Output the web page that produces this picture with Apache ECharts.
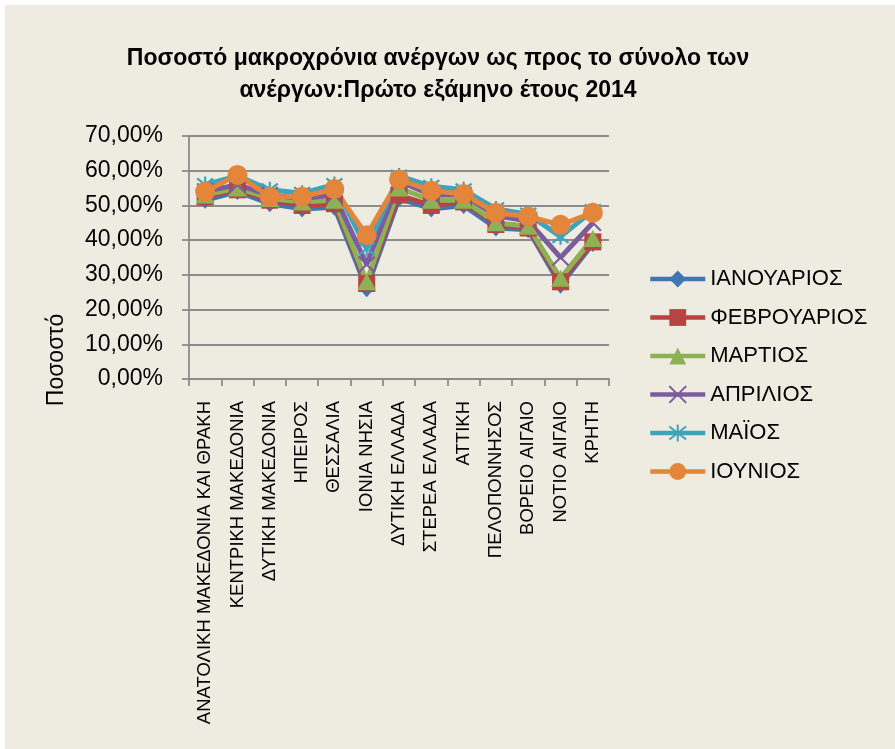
<!DOCTYPE html>
<html>
<head>
<meta charset="utf-8">
<script src="https://cdn.jsdelivr.net/npm/echarts@6/dist/echarts.min.js"></script>
<style>
html,body{margin:0;padding:0;background:#ffffff;}
#c{width:895px;height:749px;}
</style>
</head>
<body>
<div id="c"></div>
<script>
const categories = ["ΑΝΑΤΟΛΙΚΗ ΜΑΚΕΔΟΝΙΑ ΚΑΙ ΘΡΑΚΗ","ΚΕΝΤΡΙΚΗ ΜΑΚΕΔΟΝΙΑ","ΔΥΤΙΚΗ ΜΑΚΕΔΟΝΙΑ","ΗΠΕΙΡΟΣ","ΘΕΣΣΑΛΙΑ","ΙΟΝΙΑ ΝΗΣΙΑ","ΔΥΤΙΚΗ ΕΛΛΑΔΑ","ΣΤΕΡΕΑ ΕΛΛΑΔΑ","ΑΤΤΙΚΗ","ΠΕΛΟΠΟΝΝΗΣΟΣ","ΒΟΡΕΙΟ ΑΙΓΑΙΟ","ΝΟΤΙΟ ΑΙΓΑΙΟ","ΚΡΗΤΗ"];
const seriesNames = ["ΙΑΝΟΥΑΡΙΟΣ","ΦΕΒΡΟΥΑΡΙΟΣ","ΜΑΡΤΙΟΣ","ΑΠΡΙΛΙΟΣ","ΜΑΪΟΣ","ΙΟΥΝΙΟΣ"];
const january  = [51.5, 54.0, 50.5, 49.0, 49.5, 26.0, 52.0, 49.0, 50.0, 43.5, 43.0, 27.0, 39.0];
const february = [52.5, 54.5, 51.5, 50.0, 50.5, 27.5, 53.0, 50.0, 51.0, 44.5, 43.5, 28.0, 39.5];
const march    = [53.0, 55.0, 52.0, 51.0, 51.5, 28.0, 55.0, 51.5, 51.5, 45.0, 44.0, 29.0, 40.5];
const april    = [54.0, 56.0, 53.0, 52.0, 53.0, 33.0, 57.0, 53.0, 53.0, 47.0, 45.5, 35.0, 45.0];
const may      = [56.0, 58.5, 54.5, 53.5, 56.0, 37.5, 58.5, 55.5, 54.5, 49.0, 47.5, 41.0, 48.5];
const june     = [54.0, 58.8, 52.5, 52.5, 54.7, 41.4, 57.5, 54.2, 53.3, 47.9, 46.8, 44.4, 47.9];
const yTicks = [0, 10, 20, 30, 40, 50, 60, 70];
const titleText = "Ποσοστό μακροχρόνια ανέργων ως προς το σύνολο των\nανέργων:Πρώτο εξάμηνο έτους 2014";
const yName = "Ποσοστό";

const FONT = '"Liberation Sans", Arial, sans-serif';
const colors = ['#4175B4','#B84340','#8DB154','#7B5C9F','#3FA3BE','#E3853A'];
const symbols = [
  {symbol:'diamond', size:[15,17], bw:0},
  {symbol:'rect', size:[17,17], bw:0},
  {symbol:'triangle', size:[19,17], bw:0},
  {symbol:'path://M0,0L10,10M10,0L0,10', size:[16,16], bw:2.2},
  {symbol:'path://M0,0L10,10M10,0L0,10M5,-1.5L5,11.5', size:[16,16], bw:2.2},
  {symbol:'circle', size:20, bw:0}
];
const allData = [january, february, march, april, may, june];

const chart = echarts.init(document.getElementById('c'), null, {renderer:'canvas'});
const series = allData.map((d, i) => ({
  name: seriesNames[i],
  type: 'line',
  data: d,
  symbol: symbols[i].symbol,
  symbolSize: symbols[i].size,
  showAllSymbol: true,
  lineStyle: {width: 5, color: colors[i]},
  itemStyle: {color: colors[i], borderColor: colors[i], borderWidth: symbols[i].bw},
  emphasis: {disabled: true},
  animation: false
}));

chart.setOption({
  animation: false,
  backgroundColor: '#ffffff',
  textStyle: {fontFamily: FONT},
  graphic: [
    {type:'rect', left:5, top:5, z:-10, shape:{width:890, height:744}, style:{fill:'#EEECE1'}},
    {type:'text', x:57, y:360, rotation:Math.PI/2, z:10,
     style:{text:yName, fontSize:23, fontFamily:FONT, fill:'#000', align:'center', verticalAlign:'middle'}}
  ],
  title: {
    text: titleText,
    left: 438, top: 43, textAlign: 'center', padding: 0,
    textStyle: {fontSize: 23, fontWeight: 'bold', lineHeight: 32, color: '#000', fontFamily: FONT}
  },
  legend: {
    orient: 'vertical',
    left: 648, top: 268, padding: 0,
    itemWidth: 55, itemHeight: 21, itemGap: 16.5,
    lineStyle: {width: 4.5},
    textStyle: {fontSize: 22, lineHeight: 22, color: '#000', fontFamily: FONT},
    data: seriesNames
  },
  grid: {left: 189, right: 286, top: 136, bottom: 370, containLabel: false},
  xAxis: {
    type: 'category',
    data: categories,
    boundaryGap: true,
    axisLine: {lineStyle: {color: '#8C8C8C', width: 1.8}},
    axisTick: {show: true, length: 7, lineStyle: {color: '#8C8C8C', width: 1.8}},
    axisLabel: {rotate: 90, fontSize: 18.5, color: '#000', margin: 22, interval: 0, fontFamily: FONT}
  },
  yAxis: {
    type: 'value',
    min: yTicks[0], max: yTicks[yTicks.length-1], interval: 10,
    axisLine: {show: true, lineStyle: {color: '#8C8C8C', width: 1.8}},
    axisTick: {show: true, length: 7, lineStyle: {color: '#8C8C8C', width: 1.8}},
    splitLine: {lineStyle: {color: '#8C8C8C', width: 1.8}},
    axisLabel: {fontSize: 23, color: '#000', margin: 26, fontFamily: FONT,
      formatter: v => v.toFixed(2).replace('.', ',') + '%'}
  },
  series: series
});
</script>
</body>
</html>
